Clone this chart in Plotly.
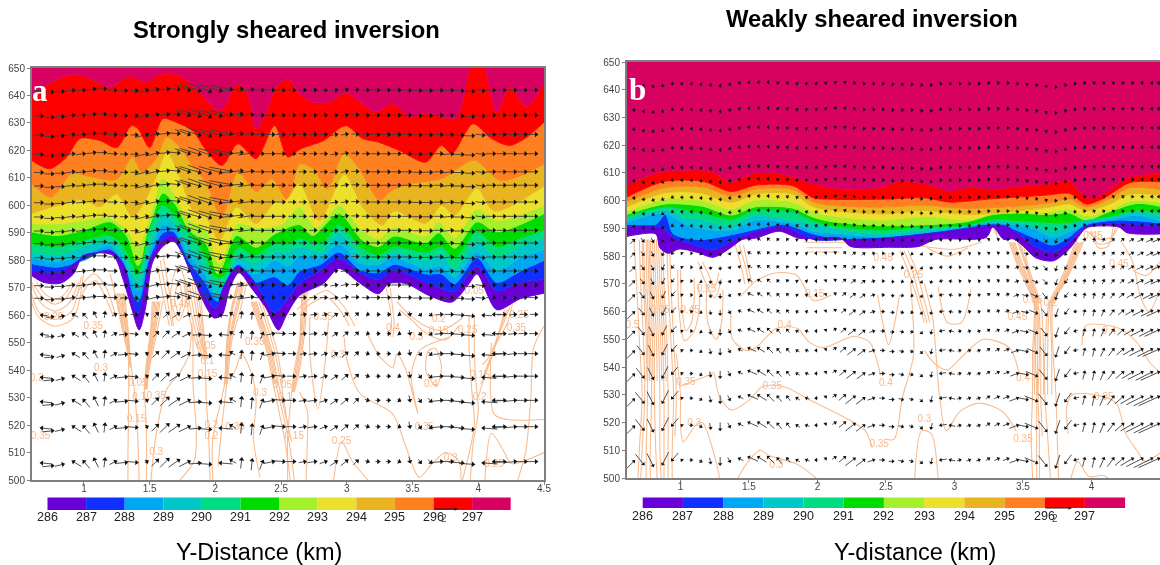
import math
import plotly.graph_objects as go

W, H = 1160, 565
COLORS = ["#6a00d8", "#1030ff", "#00a8f4", "#00c8c8", "#00dc82", "#00dc00",
          "#a4f02c", "#ece02c", "#e8b420", "#ff8020", "#ff0000", "#d80060"]
LEVELS = ["286", "287", "288", "289", "290", "291", "292", "293", "294", "295", "296", "297"]
X_TICKS = [1, 1.5, 2, 2.5, 3, 3.5, 4, 4.5]
X_TICK_TEXT = ["1", "1.5", "2", "2.5", "3", "3.5", "4", "4.5"]
Y_TICKS = [500, 510, 520, 530, 540, 550, 560, 570, 580, 590, 600, 610, 620, 630, 640, 650]

# ---------- Panel a: isentrope boundaries (top to bottom), km / level ----------
a_b11_x = [.6,.7,.8,.9,1.0,1.1,1.2,1.3,1.35,1.45,1.5,1.55,1.65,1.75,1.85,1.95,2.02,2.07,2.15,2.2,2.25,2.31,2.38,2.45,2.5,2.56,2.64,2.74,2.87,2.99,3.12,3.22,3.35,3.48,3.6,3.83,3.93,3.98,4.03,4.14,4.24,4.37,4.5]
a_b11_y = [639.4,643,646,647.5,647,645,643,646,647,645,645,647,648,646.7,642.4,637.6,634.5,636,643.6,644,640,628,633,641.8,645,645.7,640.6,637.6,637.6,641,637,634,637,632,633.5,632,649,654,653,634,643,636,645]
a_b10_x = [.6,.74,.87,.97,1.12,1.25,1.36,1.41,1.5,1.6,1.7,1.83,1.93,2.05,2.17,2.31,2.45,2.55,2.65,2.82,2.99,3.12,3.24,3.4,3.6,3.72,3.8,3.96,4.1,4.24,4.37,4.5]
a_b10_y = [616.4,613.3,617.6,624.3,623.6,621,629,628,621,631.5,630.3,627,620,614.5,622.4,617,629,617.6,620.6,623.5,629,624.3,623,620,615.7,621.8,618.8,629.7,624.3,621.8,624.8,630.3]
a_b9_x = [.6,.75,.91,1.05,1.25,1.37,1.44,1.55,1.63,1.73,1.83,1.93,2.05,2.17,2.31,2.43,2.55,2.64,2.75,2.85,2.98,3.09,3.25,3.34,3.49,3.72,3.97,4.17,4.5]
a_b9_y = [608,603,611.6,610.4,609.5,617.7,612,617,624.8,621,614,608,595.7,612,605,609.7,601.8,615,613,606,619,613.6,601.8,605.4,607.9,609.7,616.4,609,615]
a_b8_x = [.6,.8,1.0,1.12,1.25,1.37,1.44,1.55,1.63,1.73,1.83,1.93,2.03,2.16,2.31,2.45,2.54,2.64,2.79,2.98,3.12,3.27,3.36,3.6,3.72,3.82,3.99,4.12,4.5]
a_b8_y = [597,600,602,599.5,604.2,595.7,599.5,610.6,619.4,610.3,598.2,595.7,587.3,599.4,593.4,601,602,608,594.5,611.3,599.4,592.8,598,593.5,600,596.5,606.2,598,607]
a_b7_x = [.6,.8,1.0,1.18,1.33,1.41,1.5,1.6,1.68,1.8,1.93,2.03,2.17,2.31,2.5,2.64,2.77,2.94,3.12,3.24,3.36,3.6,3.7,3.82,3.99,4.14,4.5]
a_b7_y = [593.3,593.3,594.5,595.7,591,585,595.7,610,604.5,594.7,591,578.8,593.3,592,593,599.4,592,600,590.9,587.9,592,589,593.9,588.4,598.7,594.5,600]
a_b6_x = [.6,.8,1.0,1.2,1.33,1.41,1.46,1.53,1.6,1.7,1.8,1.93,2.02,2.16,2.31,2.45,2.64,2.74,2.94,3.12,3.24,3.36,3.6,3.7,3.82,3.99,4.14,4.5]
a_b6_y = [590.4,589,591,594,588.5,578,583,597,604.5,600,591,586,575,589,584.7,589.5,593,589,597,587.3,585,588.8,586.3,590,584.4,594,590.4,597]
a_low_x = [.6,.8,1.0,1.2,1.3,1.41,1.5,1.6,1.68,1.8,1.92,2.0,2.06,2.17,2.3,2.45,2.55,2.64,2.8,2.94,3.1,3.24,3.36,3.6,3.72,3.82,3.99,4.14,4.32,4.5]
a_b5_y = [586,585,587.3,589,585,575.7,592,600,597,590,582,574,574,584.7,582,586,586,588,586,593,585,582,585,583,585,580.7,590.4,585,588,591]
a_b4_y = [583,582,585,587,582,572.5,586,597,594,586,578,571,571,581.5,579,583,583,585,583,590,582,580,583,580,582.5,577,586.5,581,585,588]
a_b3_y = [581,579.5,582,585.5,579,569,583,593,592,582,575,568,568,579,575,580,578,581.5,581,586,579,578.5,581,577,578,574,583,576,581,584]
a_b2_y = [578.8,577.5,580,584,576,565,581,590,590.5,579.5,572,565.5,565,576,572,574,571,576,578.5,583,576.5,575.5,578.5,575,575,571.5,581,572,576,580]
a_b1_y = [576.4,575.5,581,583.6,578.8,560.5,580,587.6,589,577,567,562.5,570,578,572,561,566,571.5,576.4,580.6,575.5,573,576.4,572,569.7,568.5,577.8,569,572,573]
a_b0_x = [.6,.69,.82,.92,1.0,1.22,1.3,1.36,1.42,1.47,1.52,1.6,1.68,1.75,1.85,1.93,1.99,2.05,2.11,2.18,2.28,2.38,2.48,2.54,2.64,2.82,2.94,3.09,3.24,3.32,3.45,3.62,3.8,3.93,3.99,4.14,4.32,4.5]
a_b0_y = [574.5,572,571.6,575,581.8,581.8,572.7,563,554.6,563,579,585,587,582.4,571.5,563,559,560,570,575.5,569.5,563,554.6,560,567.2,571.5,577,572,567.8,571.5,571.5,567.3,564.8,571.5,575,562,566,568]

# ---------- Panel b: isentrope boundaries (top to bottom) ----------
b_b11_x = [.6,.77,.89,1.16,1.25,1.37,1.43,1.55,1.7,1.82,1.97,2.11,2.35,2.47,2.6,2.79,2.96,3.13,3.28,3.43,3.67,3.84,3.91,3.99,4.08,4.28,4.5]
b_b11_y = [605.4,609.1,610.5,611,610,606.6,607.8,610,610,608.6,606,604.6,604,605,607,606,603.5,605,604,605,606,607,603.5,601,602.3,608.5,610]
b_b10_x = [.6,.7,.89,1.16,1.37,1.55,1.82,1.97,2.11,2.47,2.79,2.96,3.28,3.67,3.84,3.96,4.08,4.28,4.5]
b_b10_y = [601,603.5,607,607,603.3,605.6,605.4,601,600.5,600.5,601,599.5,600.7,602,602.6,598.8,600.6,606.5,606.8]
b_mid_x = [.6,.89,1.16,1.37,1.55,1.82,1.97,2.11,2.47,2.79,3.1,3.67,3.84,3.96,4.13,4.28,4.5]
b_b9_y = [599.5,604.7,605,601.7,604.2,604,599.5,598.3,597.7,598.3,597.2,599,600.6,597.7,600.6,604.7,604]
b_b8_y = [597.6,602.9,602.7,599.4,602.5,602.4,597.8,596.5,595.2,596.5,595,597.5,598.8,596.4,598.8,602.4,602]
b_b7_y = [596,600.6,600,597,600.2,599.5,596,594.5,593,594.3,593,595.8,597,594.6,596.4,600,599.5]
b_g_x = [.6,.89,1.16,1.37,1.55,1.82,1.97,2.11,2.47,2.79,3.1,3.28,3.47,3.67,3.84,3.96,4.13,4.33,4.5]
b_b6_y = [594.9,598.8,598,594.8,597.8,597.3,594,592.4,591,591.3,592.5,595,595.5,595,595.5,593,596,599,598]
b_b5_y = [594.2,597.8,595.5,593.4,596.6,596,592.8,591,589.4,590.7,591,593,592.8,592.2,592,592,594,596.5,596]
b_t_x = [.6,.89,1.04,1.16,1.37,1.55,1.82,1.97,2.11,2.47,2.79,3.1,3.28,3.47,3.59,3.72,3.87,3.98,4.13,4.33,4.5]
b_b4_y = [593.5,596.7,594,593,591,594.8,593,591.5,590,588,589.5,591,592.8,592,590.8,589,592,593,594,596,594.5]
b_b3_y = [592.3,595.4,591.5,590,589.3,593,591.8,589,588.3,587,588.3,590,592,591,589.7,586.8,589.5,592,593,594.8,592.8]
b_b2_x = [.6,.82,.89,.95,1.14,1.38,1.55,1.75,1.97,2.11,2.47,2.86,3.2,3.3,3.43,3.59,3.72,3.84,3.91,3.98,4.2,4.5]
b_b2_y = [591.5,591.5,595,588,586,587.8,589.7,591.5,588,586.7,585,587,591.3,591.5,589.8,586.4,584,587,590,591.6,593,592]
b_b1_x = [.6,.82,.87,.95,1.14,1.24,1.38,1.55,1.75,1.97,2.22,2.47,2.86,3.23,3.3,3.38,3.5,3.59,3.72,3.84,3.91,3.97,4.2,4.5]
b_b1_y = [590.8,590.8,590,586.7,583.4,582.3,585.5,589,590.8,586,586,586.5,588.5,591,591.2,590.8,586.8,583.3,581.5,585,588.6,591,591.7,590.8]
b_b0_x = [.6,.65,.82,.85,.91,.99,1.12,1.24,1.38,1.45,1.55,1.72,1.87,2.17,2.24,2.52,2.74,2.86,3.23,3.28,3.36,3.43,3.5,3.59,3.72,3.84,3.94,3.98,4.2,4.26,4.5]
b_b0_y = [587,587.5,588,583,581,582.6,581.4,579.6,583.5,586,586.5,589,586.4,586.5,583.5,583.2,583.5,586,586.7,590.5,586,586.2,583.7,579.5,578.3,582.7,589.2,590.5,590.5,588.4,588]

A_BOUNDS = [(a_b11_x,a_b11_y),(a_b10_x,a_b10_y),(a_b9_x,a_b9_y),(a_b8_x,a_b8_y),(a_b7_x,a_b7_y),(a_b6_x,a_b6_y),
            (a_low_x,a_b5_y),(a_low_x,a_b4_y),(a_low_x,a_b3_y),(a_low_x,a_b2_y),(a_low_x,a_b1_y),(a_b0_x,a_b0_y)]
B_BOUNDS = [(b_b11_x,b_b11_y),(b_b10_x,b_b10_y),(b_mid_x,b_b9_y),(b_mid_x,b_b8_y),(b_mid_x,b_b7_y),(b_g_x,b_b6_y),
            (b_g_x,b_b5_y),(b_t_x,b_b4_y),(b_t_x,b_b3_y),(b_b2_x,b_b2_y),(b_b1_x,b_b1_y),(b_b0_x,b_b0_y)]

# ---------- Contours of the white lower part ----------
CONT_A = [
 ([.6,.7,.78,.86,.93],[572,566,564,566,572]), ([.64,.71,.78,.85,.91],[572,567.5,566,567.5,572]),
 ([.6,.68,.78,.88,.96],[571,564,561.5,564,572]), ([.6,.66,.78,.9,.98],[568,561,558.5,561,574]),
 ([.6,.66,.78,.92,1.0],[565,559,556,559,576]),
 ([.93,1.0,1.08,1.17,1.24],[566,572,575,570,560]), ([.97,1.03,1.09,1.15,1.22],[566,571,572.5,568,560]),
 ([1.24,1.27,1.30,1.335,1.34,1.34,1.335,1.335],[568,560,553,546,541,525,510,500]),
 ([1.26,1.29,1.31,1.34,1.36,1.39,1.41,1.42],[568,560,553,546,541,530,515,500]),
 ([1.27,1.30,1.32,1.34,1.35],[568,560,553,546,541]), ([1.29,1.31,1.33,1.345,1.355],[568,560,553,546,541]),
 ([1.31,1.325,1.34,1.35,1.36],[568,560,553,546,541]), ([1.2,1.25,1.3,1.335],[575,565,555,545]),
 ([1.25,1.28,1.31,1.338],[568,560,553,546]), ([1.28,1.305,1.325,1.343],[568,560,553,546]), ([1.3,1.32,1.335,1.348],[568,560,553,546]),
 ([1.52,1.51,1.49,1.47,1.46,1.475,1.475],[565,556,548,540,533,520,500]),
 ([1.54,1.52,1.50,1.475,1.465],[565,556,548,540,533]), ([1.56,1.535,1.51,1.48,1.47],[565,556,548,540,533]),
 ([1.58,1.55,1.52,1.49,1.475],[565,556,548,540,533]), ([1.60,1.565,1.53,1.495,1.48],[565,556,548,540,533]),
 ([1.53,1.515,1.495,1.472,1.462],[565,556,548,540,533]), ([1.55,1.528,1.505,1.478,1.468],[565,556,548,540,533]),
 ([1.57,1.542,1.515,1.485,1.472],[565,556,548,540,533]),
 ([1.51,1.55,1.63,1.73,1.8,1.82],[500,517,533,539,546,557]),
 ([1.73,1.84,1.855,1.83,1.83,1.82],[500,507,517,535,550,557]),
 ([1.66,1.68,1.72,1.76,1.78,1.72,1.66],[566,574,578,574,566,558,566]), ([1.69,1.72,1.75,1.72,1.69],[566,572,566,561,566]),
 ([1.56,1.59,1.62,1.65],[578,570,563,556]), ([1.58,1.61,1.64,1.67],[580,572,564,556]), ([1.6,1.63,1.66,1.68],[582,574,565,556]),
 ([1.80,1.84,1.89,1.92,1.93,1.95,1.96],[572,560,550,544,530,515,500]), ([1.82,1.86,1.90,1.925],[572,560,550,544]),
 ([1.84,1.875,1.905,1.93],[572,560,550,544]), ([1.86,1.89,1.915,1.935],[572,560,550,544]), ([1.78,1.82,1.87,1.91],[572,560,550,544]),
 ([1.76,1.8,1.85,1.9],[572,560,550,544]), ([1.88,1.9,1.92,1.94],[572,560,550,544]),
 ([2.22,2.17,2.12,2.10,2.085,2.05,2.02],[572,562,552,545,535,520,505]), ([2.20,2.15,2.11,2.09,2.08],[572,562,552,545,535]),
 ([2.19,2.13,2.10,2.085,2.075],[572,562,552,545,535]), ([2.17,2.12,2.09,2.08,2.07,1.98,1.98],[572,562,552,545,535,515,500]),
 ([2.21,2.16,2.115,2.095,2.082],[572,562,552,545,535]), ([2.18,2.125,2.095,2.082,2.072],[572,562,552,545,535]),
 ([2.24,2.19,2.13,2.11,2.09],[572,562,552,545,535]),
 ([2.11,2.16,2.2,2.28,2.31,2.29,2.34],[536,541,546,538,529,515,501]),
 ([2.29,2.36,2.41,2.46,2.56,2.6],[565,555,547,535,514,500]), ([2.27,2.34,2.39,2.44,2.53,2.57],[565,555,547,535,514,500]),
 ([2.31,2.38,2.43,2.48,2.58],[565,555,547,535,514]), ([2.33,2.4,2.45,2.5,2.55],[565,555,547,535,520]),
 ([2.35,2.42,2.47,2.51],[565,555,547,535]), ([2.3,2.37,2.42,2.47],[565,555,547,535]), ([2.28,2.35,2.4,2.45],[565,555,547,535]),
 ([2.66,2.65,2.64,2.60,2.58,2.55,2.55],[570,560,550,540,532,515,500]), ([2.68,2.67,2.65,2.62,2.59],[570,560,550,540,532]),
 ([2.70,2.69,2.67,2.64,2.6],[570,560,550,540,532]), ([2.64,2.7,2.7,2.69],[532,525,515,500]),
 ([2.67,2.66,2.645,2.61,2.585],[570,560,550,540,532]), ([2.69,2.68,2.66,2.63,2.595],[570,560,550,540,532]),
 ([2.72,2.72,2.78,2.84,2.86],[560,545,526,545,558]),
 ([2.62,2.72,2.85,2.98,3.06],[562,566,569,563,556]), ([2.64,2.72,2.85,2.96,3.02],[560,564,566.5,561,556]),
 ([2.98,3.0,3.1,3.35,3.45,3.55,3.65,3.75,3.85,3.87],[552,544,531.5,524,512,501,506,510,507,500]),
 ([2.9,2.96,3.04,3.16],[500,514,507,500]),
 ([3.16,3.25,3.35,3.38,3.45,3.54,3.49,3.55,3.66,3.78],[553,545,541,546,540,524,538,547,550,552]),
 ([3.6,3.62,3.67,3.72,3.68,3.63,3.6],[540,547,548,541,534,537,540]),
 ([3.3,3.33,3.34,3.33],[570,562,557,552]), ([3.33,3.35,3.36,3.35],[570,562,557,552]),
 ([3.4,3.5,3.6,3.75,3.85],[562,558,553.5,551,556]), ([3.38,3.48,3.6,3.72,3.88],[565,560,556,554.5,559]),
 ([3.93,3.93,3.95,3.97,3.88],[560,548,533,520,500]), ([3.97,3.97,3.98,4.0,3.96,3.94],[560,548,537,525,513,500]),
 ([4.03,4.07,4.13,4.17,4.2],[542,544,550,556,562]), ([4.04,4.08,4.14,4.18,4.22],[538,543,551,557,562]),
 ([4.02,4.09,4.15,4.2,4.24],[535,543,552,558,563]), ([4.0,4.05,4.12,4.22,4.26],[530,538,548,557,564]),
 ([4.1,4.12,4.22,4.5],[550,524,522,522]), ([4.05,4.1,4.2,4.25,4.5],[500,517,510,506,510]),
 ([4.3,4.36,4.4,4.42,4.5],[500,510,530,548,556]),
]
CONT_B = [
 ([.66,.68,.70,.72,.70,.69],[586,570,550,530,510,500]), ([.70,.71,.73,.74,.72,.71],[586,570,550,530,510,500]),
 ([.73,.74,.76,.76,.75,.75],[586,570,550,530,510,500]), ([.76,.77,.78,.79,.78,.78],[586,570,550,530,510,500]),
 ([.78,.79,.81,.81,.82,.83],[586,570,550,530,510,500]), ([.81,.82,.84,.85,.85,.86],[586,570,550,530,510,500]),
 ([.84,.85,.87,.88,.88,.88],[586,570,550,530,510,500]), ([.87,.88,.9,.91,.91,.91],[586,570,550,530,510,500]),
 ([.9,.91,.93,.95,.94,.94],[586,570,550,530,510,500]), ([.92,.93,.95,.97,.96],[586,570,550,530,515]),
 ([.72,.73,.75,.75],[586,570,550,535]), ([.75,.755,.77,.775],[586,570,550,535]), ([.77,.78,.795,.8],[586,570,550,535]),
 ([.795,.805,.825,.83],[586,570,550,535]), ([.825,.835,.855,.865],[586,570,550,535]), ([.855,.865,.885,.895],[586,570,550,535]),
 ([.98,.99,1.03,1.1,1.14,1.13],[575,560,549.5,553,562,570]), ([1.0,1.01,1.04,1.08,1.1,1.1],[575,562,553,556,564,572]),
 ([.97,1.0,1.0,1.02,1.11,1.16,1.27,1.285],[545,530,520,513,519,520,504,500]),
 ([.99,1.2,1.24,1.28,1.37,1.5,1.6,1.75,1.97,2.23,2.35,2.4],[533,537,538,530,524.5,528,533,533,527.5,521,517,511]),
 ([1.42,1.48,1.58,1.65,1.85,1.99],[500,505,510,508,505,500]),
 ([1.37,1.38,1.48,1.55,1.7,1.85,1.94,2.04,2.26,2.38,2.46],[560,550,546,547,554,554,549,547,551,549,537]),
 ([1.19,1.2,1.26,1.3,1.31],[570,556,550,556,568]),
 ([1.45,1.55,1.7,1.85,1.97,2.1],[566,571,574,573,564,566]), ([1.4,1.44,1.47],[584,577,570]), ([1.43,1.47,1.5],[584,577,570]),
 ([1.46,1.49,1.52],[584,577,570]), ([1.9,2.05,2.2],[585,585,585]), ([1.92,2.05,2.18],[583,583,583]),
 ([1.93,2.05,2.16],[581.5,581.5,581.5]), ([1.13,1.17,1.25,1.3],[578,572,565,572]), ([1.16,1.2,1.25,1.28],[578,574,569,574]),
 ([2.44,2.48,2.52,2.56,2.6],[566,555,548,555,566]), ([2.5,2.56,2.62,2.7,2.68],[514,514,529,544,570]),
 ([2.71,2.76,2.83,2.88],[500,517,516,500]),
 ([2.78,2.84,2.89,2.94,3.04,3.18,3.35,3.45],[570,558,530,517,524,527,524,517]),
 ([2.78,2.86,2.95,3.06,3.21,3.4,3.47],[546,541,539,544,550,547,538]),
 ([2.88,2.95,3.05,3.12],[569,556,556,568]), ([2.6,2.66,2.72,2.78],[582,575,566,556]), ([2.63,2.69,2.74,2.8],[582,575,566,556]),
 ([2.66,2.72,2.77,2.82],[582,575,566,556]), ([2.7,2.85,3.0,3.2],[584,583,582.5,585]), ([2.8,2.95,3.1],[583,580,583]),
 ([3.25,3.27,3.3],[588,592,588]), ([3.23,3.27,3.32],[586,592,586]),
 ([3.40,3.45,3.52,3.58,3.57,3.57,3.56,3.57],[585,578,570,563,545,530,515,500]),
 ([3.42,3.47,3.535,3.59,3.59,3.6,3.6,3.6],[585,578,570,563,545,530,515,500]),
 ([3.44,3.49,3.55,3.6,3.62,3.61,3.62,3.62],[585,578,570,563,545,530,515,500]),
 ([3.46,3.51,3.56,3.61,3.63,3.63,3.64],[585,578,570,563,545,530,515]), ([3.48,3.52,3.57,3.62],[585,578,570,563]),
 ([3.41,3.46,3.53,3.585,3.58,3.585],[585,578,570,563,545,530]), ([3.43,3.48,3.545,3.595,3.605,3.605],[585,578,570,563,545,530]),
 ([3.47,3.515,3.565,3.615],[585,578,570,563]), ([3.5,3.53,3.58,3.63,3.65,3.65],[585,578,570,563,545,530]),
 ([3.94,3.88,3.80,3.72,3.72,3.74,3.75,3.76],[585,578,570,563,545,530,515,500]),
 ([3.92,3.86,3.79,3.71,3.71,3.71],[585,578,570,563,545,530]), ([3.90,3.85,3.78,3.70,3.68,3.68],[585,578,570,563,545,530]),
 ([3.88,3.83,3.76,3.69,3.66,3.66,3.68,3.7],[585,578,570,563,545,530,515,500]),
 ([3.93,3.87,3.795,3.715],[585,578,570,563]), ([3.91,3.855,3.785,3.705],[585,578,570,563]), ([3.89,3.84,3.77,3.695],[585,578,570,563]),
 ([3.85,3.9,3.98,4.08,4.12],[500,506,500.5,501,500]),
 ([3.83,3.82,3.86,4.03,4.18,4.25,4.33,4.39,4.5],[516,526,530,530,527,516,510,506,509]),
 ([3.93,3.96,4.2,4.33,4.42,4.5],[548,555,554,549,542,538]),
 ([3.97,4.05,4.15,4.2],[589,586,587,591]), ([3.99,4.05,4.13,4.18],[589,584.5,585,591]), ([4.0,4.05,4.12,4.16],[589,583,583.5,591]),
 ([4.3,4.4,4.5],[575,573,578]), ([4.22,4.3,4.36,4.42,4.5],[585,578,565,560,568]),
]

LABELS_A = [("0.05",1.41,535),("0.1",1.42,530),("0.15",1.4,522),("0.25",.77,559),("0.35",1.07,556),("0.3",1.13,540.6),
 ("0.3",.64,537),("0.35",.67,516),("0.35",1.55,530.5),("0.3",1.55,510),("0.05",1.93,548.5),("0.1",1.94,543),("0.15",1.94,538.5),
 ("0.2",1.97,520),("0.2",1.97,516),("0.35",2.15,519),("0.3",2.34,531.5),("0.35",2.3,550),("0.45",1.73,564),("0.05",2.51,534.5),
 ("0.1",2.53,530),("0.35",2.82,559),("0.4",3.35,555),("0.3",3.53,552),("0.15",3.7,554),("0.2",3.7,558.5),("0.25",3.92,554.5),
 ("0.35",4.29,555),("0.25",4.31,560),("0.3",2.93,545.5),("0.15",2.6,516),("0.25",2.96,514),("0.4",3.64,534.7),("0.35",3.59,519),
 ("0.3",3.79,508),("0.25",4.12,505.5),("0.15",4.01,538),("0.2",4.01,530),("0.05",3.97,568.7)]
LABELS_B = [("0.05",.85,560.5),("0.45",1.07,560.5),("0.35",1.04,534.4),("0.5",.65,555),("0.4",1.76,555),("0.35",1.67,533),
 ("0.3",1.1,519.5),("0.3",1.7,504.5),("0.35",2.45,512),("0.4",2.5,534),("0.3",2.78,521),("0.4",3.5,536),("0.35",3.5,514),
 ("0.45",3.46,558),("0.35",4.09,529),("0.4",4.13,553),("0.25",2.7,573),("0.45",2.48,579),("0.45",4.2,577),("0.45",4.01,587),
 ("0.2",3.7,563),("0.05",3.57,564),("0.25",1.19,568),("0.15",1.98,566)]

# ---------- Wind vectors: tail offset read per column (pixels), rows in levels ----------
a_cols = [.68,.76,.84,.92,1.0,1.08,1.16,1.24,1.32,1.40,1.48,1.56,1.64,1.72,1.80,1.88,1.96,2.04,2.12,2.20,2.28,2.36,2.44,2.52,2.60,2.68,2.76,2.84,2.92,3.00,3.08,3.16,3.24,3.32,3.40,3.48,3.56,3.64,3.72,3.80,3.88,3.96,4.04,4.12,4.20,4.28,4.36,4.44]
a_u_low = [-10,10,8,-8,-6,-4,1,6,10,10,2,6,8,10,10,10,14,-12,-5,1,1,3,10,12,8,6,8,6,6,6,4,3,3,3,2,1,2,3,10,12,14,14,-14,-12,12,10,10,10]
a_v_low = [1,1,2,5,7,8,8,3,1,-1,1,6,8,7,5,1,-1,1,3,9,10,8,2,-1,0,1,1,2,4,5,4,-1,0,0,-1,-5,-3,-3,1,0,-1,-1,1,0,1,1,0,0]
a_u_up = [8,8,8,8,8,8,8,8,6,6,12,12,10,10,14,20,22,22,22,20,14,10,8,8,6,6,6,6,6,6,6,6,8,8,8,8,8,8,8,10,10,8,8,8,8,8,8,8]
a_v_up = [0,0,0,1,1,1,0,0,0,0,3,3,1,-1,-5,-6,-8,-6,-4,2,2,0,0,0,0,0,0,0,1,1,0,0,0,0,0,0,0,0,0,1,0,0,-1,0,0,0,0,0]
a_dy = [-.5,-1.5,-1,0,0,.8,.8,0,-.3,-.3,0,.5,.8,.5,0,-.5,-1,-.5,.5,.8,.5,0,0,0,0,0,0,0,0,.3,.3,0,0,0,0,0,-.3,-.3,0,0,-.5,-1,-.5,0,0,0,0,0]
a_rows_up = [642,632.8,625.8,618.8,612.2,607.3,601.2,596,590.9,586.3,581.2,576.1,571,566.4]
a_rows_low = [560.3,553.3,546,537.8,529,519.4,506.7]
a_gain_low = [.6,.7,.8,.9,1,1,1]

b_cols = [.66,.73,.80,.87,.94,1.01,1.08,1.15,1.22,1.29,1.36,1.43,1.50,1.57,1.64,1.71,1.78,1.85,1.92,1.99,2.06,2.13,2.20,2.27,2.34,2.41,2.48,2.55,2.62,2.69,2.76,2.83,2.90,2.97,3.04,3.11,3.18,3.25,3.32,3.39,3.46,3.53,3.60,3.67,3.74,3.81,3.88,3.95,4.02,4.09,4.16,4.23,4.30,4.37,4.44,4.49]
b_u_low = [12,8,6,-6,-6,-1,2,2,1,0,2,-4,-9,-8,-6,-4,-3,-3,-3,-2,1,3,6,9,8,6,4,4,4,3,2,-1,-6,-5,3,3,3,3,4,5,8,10,12,8,-4,-6,-4,2,2,4,6,8,12,16,18,20]
b_v_low = [12,-10,-12,-12,-7,1,0,-1,-5,-7,-4,2,4,5,6,5,4,2,1,0,1,2,5,7,6,2,0,0,-1,-1,-2,-5,-1,1,1,1,1,2,2,2,3,-2,-5,-10,-12,-8,-1,8,9,9,8,7,7,8,9,9]
b_u_up = [-2,-2,-2,-2,-2,-2,-2,-2,-2,-2,-2,-2,-2,-2,-2,-2,-2,-2,-2,-2,-2,-2,-2,2,2,2,2,2,2,2,2,2,2,2,2,2,2,2,2,2,2,2,2,2,2,2,2,2,2,2,2,2,2,-2,-2,-2]
b_v_up = [0,0,-1,-1,-1,0,0,0,0,0,0,0,0,0,0,1,1,1,1,1,1,1,1,0,0,0,0,0,0,0,0,0,0,0,0,0,0,0,0,0,0,1,1,1,0,0,0,0,1,1,1,1,0,0,0,0]
b_dy = [-.5,-1.5,-2,-1.5,0,0,0,-.5,-1,-1.5,-.5,.5,1,1,1,.5,.5,0,0,0,.5,1,1,.5,0,0,0,-.5,-.5,-.5,-1,-1,0,0,0,0,0,.5,.5,.5,0,-.5,-1,-2,-2.5,-1,0,.5,.5,.5,.5,.5,.5,.5,.5,.5]
b_rows_up = [642.2,632.9,626,619,612,607.4,601.2,596,591]
b_rows_low = [585.9,581,576,571,566,560,553,546,537.7,528.8,519,506.5]
b_gain_low = [.3,.3,.35,.4,.5,.6,.7,.8,.9,1,1,1]

fig = go.Figure()
CONT_COLOR = "#f9bd90"
LABEL_COLOR = "#f8b98c"


def add_panel(xa, ya, bounds, contours, labels, cols, ulow, vlow, uup, vup, dy, rows_up, rows_low, gain, pxkm, pxlev, head):
    ax = dict(xaxis=xa, yaxis=ya, hoverinfo="skip", showlegend=False)
    for cx, cy in contours:
        fig.add_trace(go.Scatter(x=cx, y=cy, mode="lines",
                                 line=dict(color=CONT_COLOR, width=1.1, shape="spline", smoothing=.8), **ax))
    fig.add_trace(go.Scatter(x=[.5, 4.7], y=[660, 660], mode="lines", line=dict(width=0), **ax))
    for (bx, by), col in zip(bounds, reversed(COLORS)):
        fig.add_trace(go.Scatter(x=bx, y=by, mode="lines", fill="tonexty", fillcolor=col,
                                 line=dict(width=1, color=col, shape="spline", smoothing=.8), **ax))
    fig.add_trace(go.Scatter(x=[l[1] for l in labels], y=[l[2] for l in labels], mode="text",
                             text=[l[0] for l in labels],
                             textfont=dict(family="Liberation Sans", size=10, color=LABEL_COLOR), **ax))
    sx, sy, hx, hy, ang = [], [], [], [], []

    def vec(x, y, u, v):
        sx.extend([x - u / pxkm, x, None])
        sy.extend([y - v / pxlev, y, None])
        hx.append(x)
        hy.append(y)
        ang.append(math.degrees(math.atan2(u, v)))
    for r in rows_up:
        for x, u, v, d in zip(cols, uup, vup, dy):
            vec(x, r + .5 * d, u, v)
    for r, g in zip(rows_low, gain):
        for x, u, v, d in zip(cols, ulow, vlow, dy):
            vec(x, r + d * g, u * g, v * g)
    fig.add_trace(go.Scatter(x=sx, y=sy, mode="lines", line=dict(color="#3c3c3c", width=.9), **ax))
    fig.add_trace(go.Scatter(x=hx, y=hy, mode="markers",
                             marker=dict(symbol="triangle-up", size=head, color="#111", angle=ang,
                                         line=dict(width=0)), **ax))


add_panel("x", "y", A_BOUNDS, CONT_A, LABELS_A, a_cols, a_u_low, a_v_low, a_u_up, a_v_up, a_dy,
          a_rows_up, a_rows_low, a_gain_low, 131.5, 2.747, 4.6)
add_panel("x2", "y2", B_BOUNDS, CONT_B, LABELS_B, b_cols, b_u_low, b_v_low, b_u_up, b_v_up, b_dy,
          b_rows_up, b_rows_low, b_gain_low, 137.0, 2.773, 3.8)


def fx(p):
    return p / W


def fy(p):
    return 1 - p / H


def axis_common():
    return dict(automargin=False, showgrid=False, zeroline=False, showline=True, mirror=True, linecolor="#7f7f7f", linewidth=2,
                ticks="outside", ticklen=3, tickwidth=1, tickcolor="#7f7f7f",
                tickfont=dict(family="Liberation Sans", size=10, color="#444"))


annots, shapes = [], []


def text(x, y, s, size, color="#000", family="Liberation Sans", bold=False):
    annots.append(dict(xref="paper", yref="paper", x=fx(x), y=fy(y), text=f"<b>{s}</b>" if bold else s,
                       showarrow=False, xanchor="center", yanchor="middle",
                       font=dict(family=family, size=size, color=color)))


text(286.5, 29, "Strongly sheared inversion", 23.8, bold=True)
text(871.5, 19, "Weakly sheared inversion", 23.8, bold=True)
text(259, 551.5, "Y-Distance (km)", 23.5)
text(915, 551.5, "Y-distance (km)", 23.5)
text(40, 91, "a", 31, "#fff", "Liberation Serif", True)
text(637, 89, "b", 31, "#fff", "Liberation Serif", True)


def colorbar(x0, step, top, bot, laby, small_x, arrow_x0, arrow_x1, arrow_y):
    for i, (c, lab) in enumerate(zip(COLORS, LEVELS)):
        shapes.append(dict(type="rect", xref="paper", yref="paper", x0=fx(x0 + i * step), x1=fx(x0 + (i + 1) * step),
                           y0=fy(bot), y1=fy(top), fillcolor=c, line=dict(width=0)))
        text(x0 + i * step, laby, lab, 12.5, "#222")
    text(small_x, laby + 2, "2", 10, "#444")
    annots.append(dict(xref="paper", yref="paper", axref="pixel", ayref="pixel", x=fx(arrow_x1), y=fy(arrow_y),
                       ax=arrow_x0 - arrow_x1, ay=0, showarrow=True, arrowhead=2, arrowsize=.7, arrowwidth=1,
                       arrowcolor="#222", text=""))


colorbar(47.5, 38.6, 497.5, 510, 516.5, 444, 433, 458, 509)
colorbar(642.7, 40.2, 497.5, 508, 516, 1055, 1044, 1072, 508)

fig.update_layout(
    width=W, height=H, margin=dict(l=0, r=0, t=0, b=0), paper_bgcolor="#fff", plot_bgcolor="#fff",
    hovermode=False, showlegend=False, annotations=annots, shapes=shapes,
    xaxis=dict(domain=[fx(32), fx(544)], range=[.605, 4.5], anchor="y", tickvals=X_TICKS, ticktext=X_TICK_TEXT,
               ticklabelstandoff=-5, **axis_common()),
    yaxis=dict(domain=[fy(480), fy(68)], range=[500, 650], anchor="x", tickvals=Y_TICKS, **axis_common()),
    xaxis2=dict(domain=[fx(627), 1], range=[.61, 4.5], anchor="y2", tickvals=X_TICKS, ticktext=X_TICK_TEXT,
                ticklabelstandoff=-5, **axis_common()),
    yaxis2=dict(domain=[fy(478), fy(62)], range=[500, 650], anchor="x2", tickvals=Y_TICKS, **axis_common()),
)
fig.write_html("out.html", config=dict(displayModeBar=False),
               post_script="document.body.style.margin='0';document.body.style.overflow='hidden';"
                           "document.querySelector('.svg-container').style.filter='blur(0.45px)';")
